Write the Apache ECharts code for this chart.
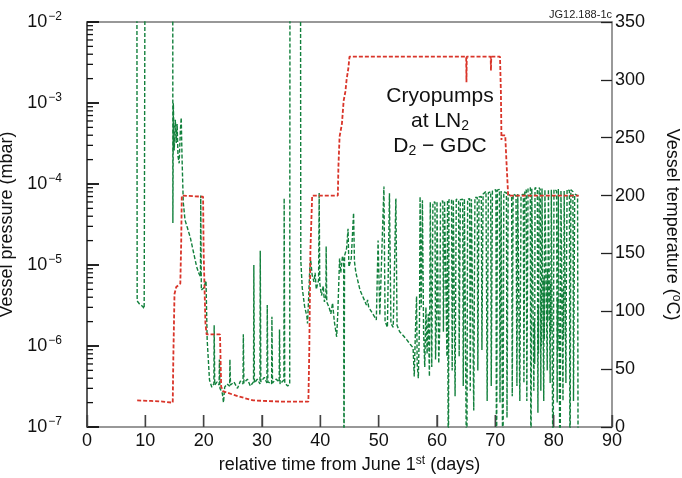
<!DOCTYPE html>
<html><head><meta charset="utf-8">
<script src="https://cdn.jsdelivr.net/npm/echarts@6/dist/echarts.min.js"></script>
<style>html,body{margin:0;padding:0;background:#fff}#c{width:682px;height:478px}</style>
</head><body><div id="c"></div>
<script>
// ---- data (day since June 1st, value) ----
const pressurePumpdown = [
[8.55,1e-1],[8.6,3.6e-6],[9.0,3.3e-6],[9.5,3.1e-6],[9.8,2.9e-6],[9.85,8e-5],[9.95,1e-1],
[14.7,1e-1],[14.72,3.3e-5],[14.8,1.0e-3],[14.95,2.6e-4],[15.15,6.2e-4],[15.3,3.2e-4],[15.45,5.5e-4],[15.6,2.2e-4],[15.8,1.8e-4],[16.0,4.5e-4],[16.15,6.6e-4],[16.3,2.0e-4],[16.5,6e-5],[16.8,3.6e-5],[17.2,2.9e-5],[17.7,2.2e-5],[18.2,1.5e-5],[18.8,9.5e-6],[19.2,7.8e-6],[19.45,7.2e-6],[19.5,7.2e-5],[19.6,4.9e-6],[20.0,5.2e-6],[20.4,6.4e-6],[20.6,1.2e-6],[21.0,3.8e-7],[21.4,3.1e-7],[21.75,3.4e-7],[21.8,1.8e-6],[21.9,3.3e-7],[22.3,3.6e-7],[22.65,3.3e-7],[22.7,6.8e-7],[22.8,3.0e-7],[23.2,2.6e-7],[23.4,2.0e-7],[23.6,3.1e-7],[24.0,3.4e-7],[24.45,3.2e-7],[24.5,6.8e-7],[24.6,3.3e-7],[25.2,3.6e-7],[25.8,3.0e-7],[26.3,3.7e-7],[26.75,3.4e-7],[26.8,1.4e-6],[26.9,3.5e-7],[27.5,3.9e-7],[28.0,3.2e-7],[28.55,3.6e-7],[28.6,1.0e-5],[28.7,3.5e-7],[29.2,3.9e-7],[29.65,3.4e-7],[29.7,1.5e-5],[29.8,3.6e-7],[30.4,4.1e-7],[30.85,3.5e-7],[30.9,3.2e-6],[31.0,3.6e-7],[31.65,3.4e-7],[31.7,2.3e-6],[31.8,3.5e-7],[32.4,3.9e-7],[32.95,3.6e-7],[33.0,1.6e-6],[33.1,3.4e-7],[33.75,3.8e-7],[33.8,6.7e-5],[33.9,3.5e-7],[34.4,3.2e-7],[34.75,3.4e-7],[34.8,1e-1],
[36.6,1e-1],[36.65,1.15e-5],[36.9,5.2e-6],[37.3,3.1e-6],[37.7,2.3e-6],[37.8,1.9e-6]
];
const pressureBakeout = [
[38.0,4e-6],[38.2,9.5e-6],[38.35,1.15e-5],[38.6,7.5e-6],[38.9,6.2e-6],[39.1,8e-6],[39.3,5e-6],[39.7,6.5e-6],[39.8,7.8e-5],[39.9,6e-6],[40.2,4.2e-6],[40.5,5.5e-6],[40.7,3.5e-6],[40.95,4.2e-6],[41.0,1.7e-5],[41.1,3.5e-6],[41.5,3.0e-6],[41.8,2.5e-6],[42.1,3.4e-6],[42.4,2.0e-6],[42.8,1.3e-6],[43.0,2.6e-6],[43.3,1.2e-5],[43.5,8e-6],[43.8,1.3e-5],[44.0,1.1e-5],[44.05,1e-8],[44.15,1.3e-5],[44.5,1.6e-5],[44.75,2.8e-5],[44.9,9.5e-6],[45.3,1.2e-5],[45.7,4.4e-5],[45.85,1.1e-5],[46.1,8e-6],[46.8,4.9e-6],[47.4,3.9e-6],[47.9,3.2e-6],[48.1,3.7e-6],[48.3,3.0e-6],[49.0,2.5e-6],[49.6,2.1e-6],[49.9,2.0e-5],[50.2,2.4e-6],[50.9,9.3e-5],[51.1,2.0e-6],[51.5,1.7e-6],[51.85,7.7e-5],[52.1,1.9e-6],[52.5,1.7e-6],[52.95,6.6e-5],[53.15,1.8e-6],[53.6,1.5e-6],[54.2,1.35e-6],[54.8,1.2e-6],[55.4,1.05e-6],[55.9,9.5e-7]
];
const pressureCycling = [
[56.0,9e-7],[56.1,4.2e-7],[56.3,1.5e-6],[56.5,4.1e-6],[56.6,6e-7],[56.8,4.0e-7],[57.0,2e-6],[57.1,7e-5],[57.3,3e-6],[57.5,6.3e-5],[57.7,1.5e-6],[57.9,5.5e-7],[58.1,3e-6],[58.3,8e-7],[58.5,2.5e-6],[58.7,4.2e-7],[58.85,6e-5],
[59.0,5.8e-5],[59.1,5.5e-7],[59.3,5.9e-5],[59.65,6e-5],[59.75,6.8e-7],[59.95,3e-6],[60.0,6.1e-5],[60.2,6.1e-5],[60.3,6.1e-7],[60.5,2e-6],[60.6,6e-5],[61.0,6.2e-5],[61.1,1.5e-6],[61.3,6.2e-5],[61.6,6.3e-5],[61.7,7.4e-7],[61.8,6.3e-5],[61.85,6.3e-5],[61.95,1e-8],[62.05,6.4e-5],[62.5,6.4e-5],[62.6,5e-7],[62.8,6.4e-5],[63.0,6.5e-5],[63.1,2.4e-7],[63.3,6.5e-5],[63.7,6.3e-5],[63.8,7.4e-7],[64.0,6.4e-5],[64.4,6.5e-5],[64.5,3.2e-7],[64.7,6.6e-5],[65.0,6.4e-5],[65.1,1e-8],[65.25,6.5e-5],[65.6,6.6e-5],[65.7,2.8e-7],[65.9,6.5e-5],[66.2,6.7e-5],[66.3,1.6e-7],[66.5,6.8e-5],[66.9,6.8e-5],[67.0,5e-7],[67.2,6.9e-5],[67.6,7e-5],[67.7,8.9e-7],[67.9,7.5e-5],[68.4,8.1e-5],[68.6,2.1e-7],[68.8,7.8e-5],[69.2,8e-5],[69.3,3.2e-7],[69.5,8.2e-5],[70.1,8.5e-5],[70.2,1e-8],[70.35,8.4e-5],[70.7,8.6e-5],[70.8,2e-7],[71.0,8.2e-5],[71.2,8.5e-5],[71.3,1e-8],[71.45,8e-5],[71.9,7.8e-5],[72.0,1.3e-7],[72.2,7.5e-5],[72.8,7e-5],[72.9,2.4e-7],[73.05,7.5e-5],
[73.55,7.2e-5],[73.7,3.2e-7],[73.85,7.5e-5],[74.1,7.8e-5],[74.2,2.1e-7],[74.4,7.2e-5],[74.8,7.5e-5],[74.9,3.5e-7],[75.05,8e-5],[75.3,8.5e-5],[75.4,2.1e-7],[75.6,8.8e-5],[76.0,9e-5],[76.1,1e-8],[76.25,8.8e-5],[76.5,8.6e-5],[76.6,2.8e-7],[76.7,2e-6],[76.75,6e-7],[76.8,9e-5],[77.2,8.7e-5],[77.3,1.5e-7],[77.35,3e-6],[77.4,8e-7],[77.45,8.5e-6],[77.5,9e-5],[77.7,8.5e-5],[77.8,2.8e-7],[77.85,5e-6],[77.9,1e-6],[78.0,8.8e-5],[78.2,9e-5],[78.3,2.1e-7],[78.35,7e-6],[78.4,1.2e-6],[78.5,8.5e-5],[78.8,8.2e-5],[78.9,5e-7],[78.95,9e-6],[79.0,2e-6],[79.1,8.6e-5],[79.3,8.8e-5],[79.4,3.5e-7],[79.45,6e-6],[79.5,1.5e-6],[79.6,8.5e-5],[79.8,8.3e-5],[79.9,1e-8],[80.05,8.6e-5],[80.5,8.2e-5],[80.6,2e-7],[80.65,4e-6],[80.7,9e-7],[80.8,8.7e-5],[81.0,8.5e-5],[81.1,1e-8],[81.25,8.3e-5],[81.5,8.5e-5],[81.6,2.1e-7],[81.65,5e-6],[81.7,1.2e-6],[81.8,8.2e-5],[82.0,8.4e-5],[82.1,3.5e-7],[82.15,3e-6],[82.3,8.6e-5],[82.7,8.3e-5],[82.8,1e-8],[82.95,8.5e-5],[83.3,8e-5],[83.4,2.1e-7],[83.6,7.5e-5],[84.1,7.2e-5],[84.2,1e-8]
];
const temperature = [
[8.6,23],[11,22.5],[13,22],[14.7,21],[14.8,60],[15.0,115],[15.3,121],[16.0,124],[16.15,160],[16.25,200],[19.9,199],[20.0,150],[20.3,90],[20.5,80],[22.8,80],[23.0,35],[23.3,31],[25,28],[27,25],[28.5,23],[33,22],[37.95,22],[38.1,64],[38.3,153],[38.6,200],[43.0,200],[43.1,225],[43.3,251],[43.7,262],[44.0,282],[44.3,290],[44.5,300],[44.8,310],[45.0,320],[55,320],[65.0,320],[65.05,298],[65.1,320],[69.2,320],[69.25,308],[69.3,320],[70.8,320],[70.95,290],[71.0,271],[71.05,248],[71.1,252],[71.7,252],[71.9,230],[72.2,200],[84.3,200]
];
const dayTicks = [0,10,20,30,40,50,60,70,80,90];
const tempTicks = [0,50,100,150,200,250,300,350];
const pressureDecades = [-7,-6,-5,-4,-3,-2];
const minorMultipliers = [2,3,4,5,6,7,8,9];

const FONT = 'Liberation Sans, Arial, Helvetica, sans-serif';
const GREEN = '#12803c', RED = '#d9352a', AXIS = '#777';
const decadeValues = pressureDecades.map(e => Math.pow(10, e));
const minorValues = [];
pressureDecades.slice(0,-1).forEach(e => minorMultipliers.forEach(m => minorValues.push(m*Math.pow(10,e))));
// tick marks drawn through the axes' own scales (api.coord)
const leftTickData = decadeValues.map(v => [v, 12]).concat(minorValues.map(v => [v, 6]));

const chart = echarts.init(document.getElementById('c'), null, {renderer:'canvas'});
chart.setOption({
  animation:false,
  backgroundColor:'#fff',
  grid:{left:87,right:70,top:22,bottom:51,outerBoundsMode:'none',containLabel:false},
  xAxis:[
    {type:'value',min:dayTicks[0],max:dayTicks[dayTicks.length-1],interval:10,position:'bottom',
      axisLine:{onZero:false,lineStyle:{color:AXIS,width:1.5}},
      axisTick:{show:true,inside:true,length:12,lineStyle:{color:'#444',width:1.4}},
      splitLine:{show:false},
      axisLabel:{fontFamily:FONT,fontSize:18,color:'#111',margin:5},
      name:'{t|relative time from June 1}{s|st}{t| (days)}',nameLocation:'middle',nameGap:28,
      nameTextStyle:{rich:{t:{fontFamily:FONT,fontSize:18,color:'#111'},s:{fontFamily:FONT,fontSize:12,color:'#111',verticalAlign:'top',padding:[0,0,8,0]}}}
    },
    {type:'value',min:dayTicks[0],max:dayTicks[dayTicks.length-1],position:'top',
      axisLine:{show:true,onZero:false,lineStyle:{color:AXIS,width:1.5}},
      axisTick:{show:false},axisLabel:{show:false},splitLine:{show:false}
    }
  ],
  yAxis:[
    {type:'log',logBase:10,min:1e-7,max:1e-2,position:'left',
      axisLine:{show:true,onZero:false,lineStyle:{color:'#222',width:1.5}},
      axisTick:{show:true,inside:true,length:12,lineStyle:{color:'#111',width:1.5}},
      splitLine:{show:false},
      axisLabel:{margin:25,
        formatter:v=>{const e=Math.round(Math.log10(v));return '{b|10}{e|−'+(-e)+'}';},
        rich:{b:{fontFamily:FONT,fontSize:18,color:'#111'},e:{fontFamily:FONT,fontSize:12,color:'#111',padding:[0,0,10,1]}}},
      name:'Vessel pressure (mbar)',nameLocation:'middle',nameRotate:90,nameGap:50,
      nameTextStyle:{fontFamily:FONT,fontSize:18,color:'#111'}
    },
    {type:'value',min:tempTicks[0],max:tempTicks[tempTicks.length-1],interval:50,position:'right',
      axisLine:{show:true,onZero:false,lineStyle:{color:AXIS,width:1.5}},
      axisTick:{inside:true,length:11,lineStyle:{color:'#222',width:1.3}},
      splitLine:{show:false},
      axisLabel:{fontFamily:FONT,fontSize:18,color:'#111',margin:3},
      name:'Vessel temperature ({s|o}C)',nameLocation:'middle',nameRotate:-90,nameGap:50,
      nameTextStyle:{fontFamily:FONT,fontSize:18,color:'#111',rich:{s:{fontFamily:FONT,fontSize:12,color:'#111',padding:[0,0,8,0]}}}
    }
  ],
  series:[
    {type:'line',name:'pressure',xAxisIndex:0,yAxisIndex:0,showSymbol:false,clip:true,z:3,
      data:pressurePumpdown.concat(pressureBakeout,pressureCycling),
      lineStyle:{color:GREEN,width:1.4,type:[4,2]}},
    {type:'line',name:'temperature',xAxisIndex:0,yAxisIndex:1,showSymbol:false,clip:true,z:4,
      data:temperature,
      lineStyle:{color:RED,width:1.8,type:[4,2]}},
    {type:'custom',name:'leftTicks',xAxisIndex:0,yAxisIndex:0,clip:false,silent:true,z:5,
      data:leftTickData,
      renderItem:(params,api)=>{const p=api.coord([dayTicks[0],api.value(0)]);const len=api.value(1);
        return {type:'line',shape:{x1:p[0],y1:p[1],x2:p[0]+len,y2:p[1]},style:{stroke:'#111',lineWidth:1.3}};},
      encode:{y:0}},
    {type:'custom',name:'bottomTicks',xAxisIndex:0,yAxisIndex:0,clip:false,silent:true,z:5,
      data:dayTicks.map(d=>[d]),
      renderItem:(params,api)=>{const p=api.coord([api.value(0),1e-7]);
        return {type:'line',shape:{x1:p[0],y1:p[1],x2:p[0],y2:p[1]-12},style:{stroke:'#444',lineWidth:1.3}};},
      encode:{x:0}}
  ],
  graphic:[
    {type:'text',x:612,y:15,style:{text:'JG12.188-1c',fontFamily:FONT,fontSize:11,fill:'#222',align:'right',verticalAlign:'middle'}},
    {type:'text',x:440,y:84,style:{text:'{a|Cryopumps}\n{a|at LN}{s|2}\n{a|D}{s|2}{a| − GDC}',align:'center',verticalAlign:'top',
      rich:{a:{fontFamily:FONT,fontSize:21,fill:'#111',lineHeight:25},s:{fontFamily:FONT,fontSize:14,fill:'#111',padding:[10,0,0,0],lineHeight:25}}}}
  ]
});
</script></body></html>
